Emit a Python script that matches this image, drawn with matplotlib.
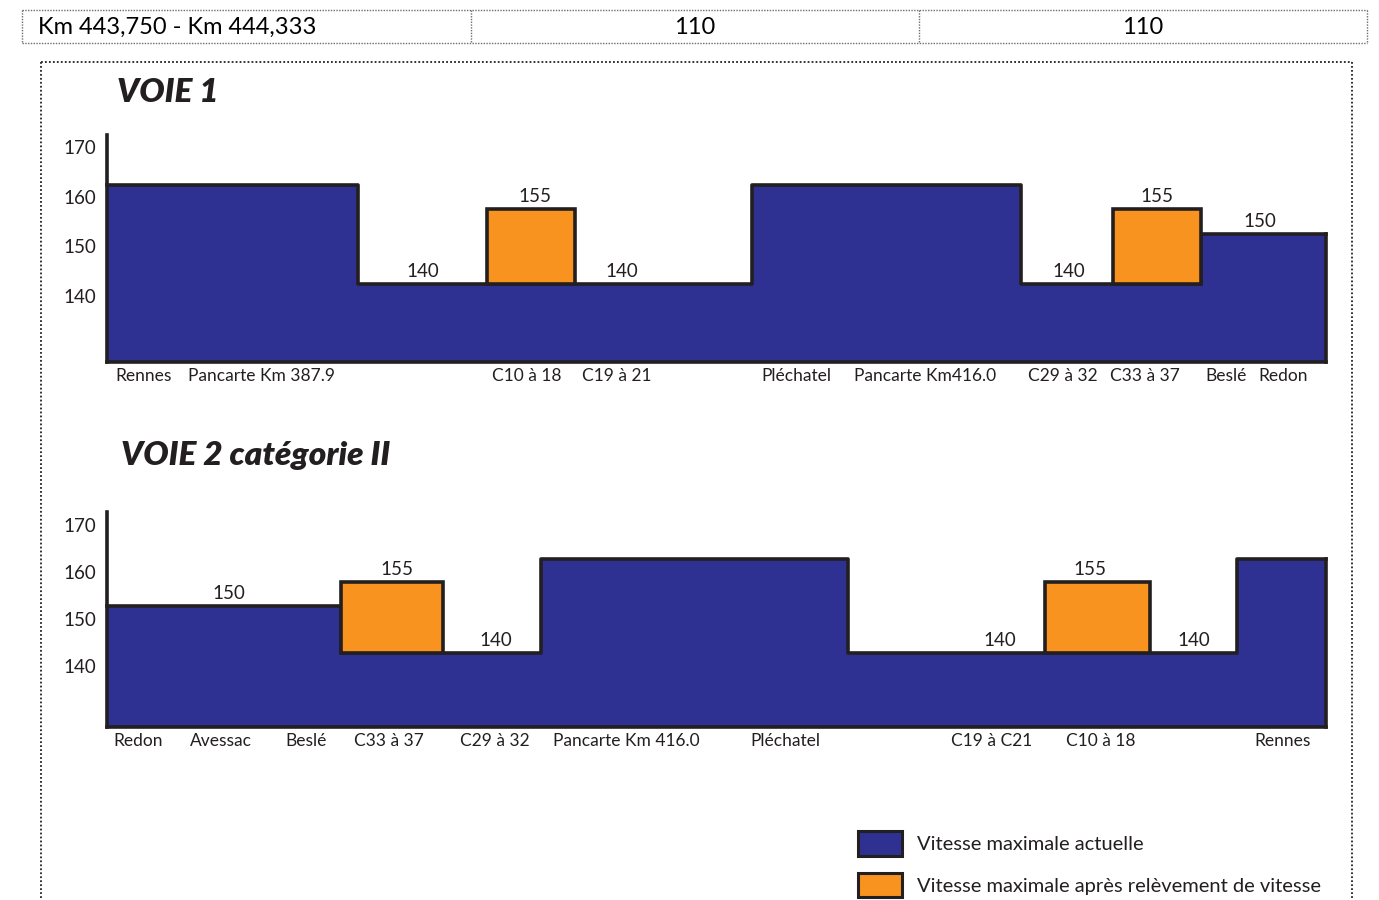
import matplotlib

matplotlib.use("Agg")
import matplotlib.pyplot as plt
from matplotlib.lines import Line2D
from matplotlib.patches import Patch
from matplotlib.transforms import ScaledTranslation

# --- données -------------------------------------------------------------
# Voie 1 : sections (bornes en unités schématiques), vitesse actuelle, vitesse relevée
V1_BOUNDS = [0, 251, 380, 468, 645, 914, 1006, 1094, 1219]
V1_CURRENT = [160, 140, 140, 140, 160, 140, 140, 150]
V1_RAISED = [None, None, 155, None, None, None, 155, None]
V1_VALUE_LABELS = [(1, 316), (2, 428), (3, 515), (5, 962), (6, 1050), (7, 1153)]
V1_PLACES = ["Rennes", "Pancarte Km 387.9", "C10 à 18", "C19 à 21", "Pléchatel",
             "Pancarte Km416.0", "C29 à 32", "C33 à 37", "Beslé", "Redon"]
V1_PLACES_X = [37, 154, 420, 510, 689, 818, 956, 1038, 1119, 1176]

# Voie 2 catégorie II
V2_BOUNDS = [0, 234, 336, 434, 741, 938, 1043, 1130, 1219]
V2_CURRENT = [150, 140, 140, 160, 140, 140, 140, 160]
V2_RAISED = [None, 155, None, None, None, 155, None, None]
V2_VALUE_LABELS = [(0, 122), (1, 290), (2, 389), (4, 893), (5, 983), (6, 1087)]
V2_PLACES = ["Redon", "Avessac", "Beslé", "C33 à 37", "C29 à 32", "Pancarte Km 416.0",
             "Pléchatel", "C19 à C21", "C10 à 18", "Rennes"]
V2_PLACES_X = [31, 114, 199, 282, 388, 519, 678, 885, 994, 1176]

Y_TICKS = [140, 150, 160, 170]

# tableau du haut
TABLE_ROW = ["Km 443,750 - Km 444,333", "110", "110"]

LEGEND_LABELS = ["Vitesse maximale actuelle",
                 "Vitesse maximale après relèvement de vitesse"]

# --- style ---------------------------------------------------------------
BLUE = "#2e3192"
ORANGE = "#f7931e"
INK = "#231f20"
FONT = "Lato"
W, H = 1379, 900

plt.rcParams["font.family"] = [FONT, "DejaVu Sans"]


def fx(px):
    return px / W


def fy(py):
    return 1 - py / H


def speed_panel(fig, rect, ylim, bounds, current, raised, value_labels, places, places_x,
                label_shift):
    ax = fig.add_axes(rect)
    x0, x1 = bounds[0], bounds[-1]
    ax.set_xlim(x0, x1)
    ax.set_ylim(*ylim)
    ylo = ylim[0]

    prof = current + [current[-1]]
    ax.fill_between(bounds, prof, ylo, step="post", color=BLUE, lw=0, zorder=1)
    ax.step(bounds, prof, where="post", color=INK, lw=2.6, zorder=3, clip_on=False)
    ax.plot([x1, x1], [ylo, current[-1]], color=INK, lw=2.6, zorder=3, clip_on=False)

    for i, r in enumerate(raised):
        if r is None:
            continue
        ax.bar(bounds[i], r - current[i], width=bounds[i + 1] - bounds[i], bottom=current[i],
               align="edge", color=ORANGE, edgecolor=INK, lw=2.6, zorder=4)

    for i, x in value_labels:
        v = raised[i] if raised[i] is not None else current[i]
        ax.annotate(f"{v}", (x, v), xytext=(0, 3), textcoords="offset points",
                    ha="center", va="bottom", fontsize=13.5, color=INK)

    for name, x in zip(places, places_x):
        ax.annotate(name, (x, 0), xycoords=("data", "axes fraction"), xytext=(0, -4),
                    textcoords="offset points", ha="center", va="top", fontsize=12.5,
                    color=INK)

    for s in ("top", "right"):
        ax.spines[s].set_visible(False)
    for s in ("left", "bottom"):
        ax.spines[s].set_color(INK)
        ax.spines[s].set_linewidth(2.6)
        ax.spines[s].set_zorder(5)
    ax.set_xticks([])
    ax.set_yticks(Y_TICKS)
    ax.tick_params(axis="y", length=0, pad=8, labelsize=13.5, labelcolor=INK)
    shift = ScaledTranslation(0, -label_shift / 100, fig.dpi_scale_trans)
    for lab in ax.get_yticklabels():
        lab.set_transform(lab.get_transform() + shift)
    return ax


fig = plt.figure(figsize=(W / 100, H / 100), dpi=100)

# tableau pointillé du haut
dot_light = dict(color="#6d6d6d", lw=1.0, linestyle=(0, (1, 1)))
for (xa, ya, xb, yb) in [(22, 10, 1367, 10), (22, 43, 1367, 43), (22, 10, 22, 43),
                         (1367, 10, 1367, 43), (471, 10, 471, 43), (919, 10, 919, 43)]:
    fig.add_artist(Line2D([fx(xa), fx(xb)], [fy(ya), fy(yb)], **dot_light))
fig.text(fx(38), fy(27), TABLE_ROW[0], ha="left", va="center", fontsize=17, color="black")
fig.text(fx(695), fy(27), TABLE_ROW[1], ha="center", va="center", fontsize=17, color="black")
fig.text(fx(1143), fy(27), TABLE_ROW[2], ha="center", va="center", fontsize=17, color="black")

# cadre pointillé autour des graphiques
dot_dark = dict(color="#222222", lw=1.3, linestyle=(0, (1, 1.2)))
for (xa, ya, xb, yb) in [(41, 62, 1352, 62), (41, 62, 41, 900), (1352, 62, 1352, 900)]:
    fig.add_artist(Line2D([fx(xa), fx(xb)], [fy(ya), fy(yb)], **dot_dark))

fig.text(fx(117), fy(93), "VOIE 1", ha="left", va="center", fontsize=24,
         fontweight="heavy", style="italic", color=INK)
fig.text(fx(121), fy(455), "VOIE 2 catégorie II", ha="left", va="center", fontsize=24,
         fontweight="heavy", style="italic", color=INK)

speed_panel(fig, [fx(107), fy(362), fx(1219), (362 - 135) / H], (124.2, 169.6),
            V1_BOUNDS, V1_CURRENT, V1_RAISED, V1_VALUE_LABELS, V1_PLACES, V1_PLACES_X, 12)
speed_panel(fig, [fx(107), fy(727), fx(1219), (727 - 512) / H], (124.2, 169.0),
            V2_BOUNDS, V2_CURRENT, V2_RAISED, V2_VALUE_LABELS, V2_PLACES, V2_PLACES_X, 13)

handles = [Patch(facecolor=BLUE, edgecolor=INK, lw=2.2),
           Patch(facecolor=ORANGE, edgecolor=INK, lw=2.2)]
fig.legend(handles, LEGEND_LABELS, loc="upper left", bbox_to_anchor=(fx(848), fy(821)),
           frameon=False, fontsize=14.5, handlelength=2.2, handleheight=1.5,
           handletextpad=0.75, labelspacing=0.85, borderpad=0, labelcolor=INK)

fig.savefig("out.png", dpi=100)
